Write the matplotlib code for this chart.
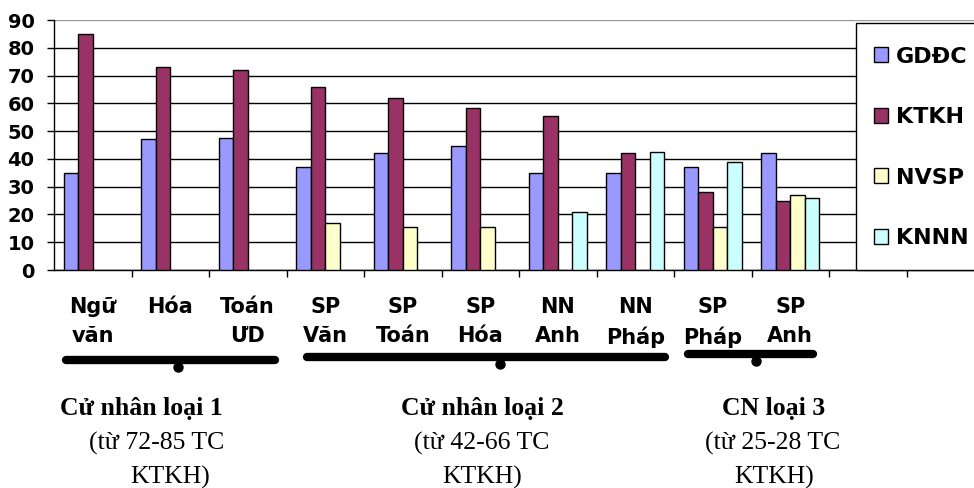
import numpy as np
import matplotlib.pyplot as plt
from matplotlib.patches import Rectangle
from matplotlib.transforms import blended_transform_factory

# Ngành đào tạo và số tín chỉ theo từng khối kiến thức
nganh = ["Ngữ\nvăn", "Hóa\n", "Toán\nƯD", "SP\nVăn", "SP\nToán", "SP\nHóa",
         "NN\nAnh", "NN\nPháp", "SP\nPháp", "SP\nAnh"]
gddc = [35, 47, 47.5, 37, 42, 44.5, 35, 35, 37, 42]
ktkh = [85, 73, 72, 66, 62, 58.5, 55.5, 42, 28, 25]
nvsp = [None, None, None, 17, 15.5, 15.5, None, None, 15.5, 27]
knnn = [None, None, None, None, None, None, 21, 42.5, 39, 26]

khoi = ["GDĐC", "KTKH", "NVSP", "KNNN"]
mau = ["#9999FF", "#993366", "#FFFFCC", "#CCFFFF"]

# Nhóm cử nhân: (ngành đầu, ngành cuối, tên, dòng mô tả)
nhom = [(0, 2, "Cử nhân loại 1", "(từ 72-85 TC", "KTKH)"),
        (3, 7, "Cử nhân loại 2", "(từ 42-66 TC", "KTKH)"),
        (8, 9, "CN loại 3", "(từ 25-28 TC", "KTKH)")]

W, H = 974, 488
fig = plt.figure(figsize=(W / 100, H / 100), dpi=100)
ax = fig.add_axes([54 / W, 1 - 270 / H, (W - 54) / W, 250 / H])
fy = lambda py: 1 - py / H

x = np.arange(len(nganh))
bw = 0.1875
for k, (ten, vals, c) in enumerate(zip(khoi, [gddc, ktkh, nvsp, knnn], mau)):
    xs = [xi + (k - 1.5) * bw for xi, v in zip(x, vals) if v is not None]
    hs = [v for v in vals if v is not None]
    ax.bar(xs, hs, width=bw, color=c, edgecolor="black", linewidth=1.0,
           label=ten, zorder=3)

ax.set_ylim(0, 90)
ax.set_xlim(-0.5, -0.5 + (W - 54) / 77.5)
ax.set_yticks(np.arange(0, 91, 10))
ax.yaxis.grid(True, color="black", linewidth=1.0, zorder=0)
ax.get_ygridlines()[-1].set_color("#999999")

ax.set_xticks(np.arange(len(nganh) + 1) + 0.5)
ax.set_xticklabels([])
ax.set_xticks(x, minor=True)
ax.set_xticklabels(nganh, minor=True, fontfamily="DejaVu Sans",
                   fontweight="bold", fontsize=15, linespacing=1.55)
ax.tick_params(axis="x", which="minor", length=0, pad=19.5)
ax.tick_params(axis="x", which="major", length=5, width=1, direction="out")
ax.tick_params(axis="y", length=5, width=1, pad=9, labelsize=14)
for t in ax.get_yticklabels():
    t.set_fontfamily("DejaVu Sans")
    t.set_fontweight("bold")

for s in ["top", "right"]:
    ax.spines[s].set_visible(False)
ax.spines["left"].set_linewidth(1.0)
ax.spines["bottom"].set_linewidth(1.0)

# Khung chú giải vẽ riêng, nội dung chú giải đặt bên trong
ax.add_patch(Rectangle((856 / W, fy(270)), 130 / W, 247 / H,
                       transform=fig.transFigure, facecolor="white",
                       edgecolor="black", linewidth=1.0, clip_on=False,
                       zorder=4))
leg = ax.legend(loc="upper left", bbox_to_anchor=(856 / W, fy(29)),
                bbox_transform=fig.transFigure, borderaxespad=0,
                prop={"family": "DejaVu Sans", "weight": "bold", "size": 16},
                handlelength=0.65, handleheight=0.66, handletextpad=0.35,
                labelspacing=1.82, borderpad=0.8, fancybox=False,
                frameon=False)

# Ngoặc gom nhóm và chú thích bên dưới
tr = blended_transform_factory(ax.transData, fig.transFigure)
ngoac = [(-0.34, 2.35, 1.1, 360), (2.76, 7.38, 5.25, 357), (7.68, 9.29, 8.56, 354)]
tam = [(141, 157, 170), (482, 482, 482.5), (774, 773, 774)]
for (a, b, d, py), (_, _, ten, d1, d2), cx in zip(ngoac, nhom, tam):
    ax.plot([a, b], [fy(py), fy(py)], transform=tr, color="black", lw=6,
            solid_capstyle="round", clip_on=False)
    ax.plot([d], [fy(py + 7)], transform=tr, marker="o", ms=6.5, color="black",
            clip_on=False)
    fig.text(cx[0] / W, fy(415), ten, ha="center", va="baseline",
             family="Liberation Serif", weight="bold", size=18.5)
    fig.text(cx[1] / W, fy(450), d1, ha="center", va="baseline",
             family="Liberation Serif", size=18.5)
    fig.text(cx[2] / W, fy(484), d2, ha="center", va="baseline",
             family="Liberation Serif", size=18.5)

fig.savefig("out.png", dpi=100)
